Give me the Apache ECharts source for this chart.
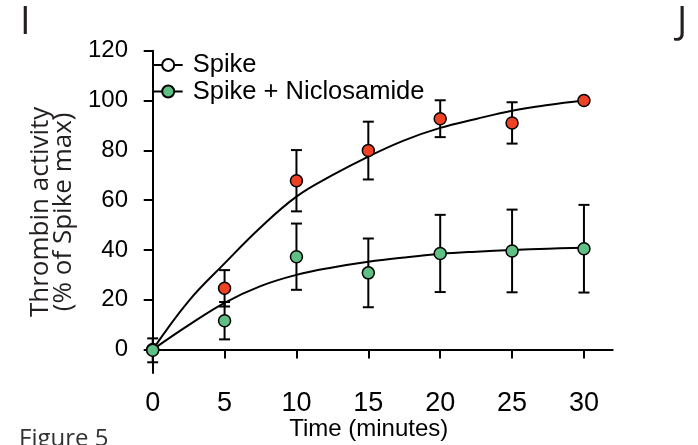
<!DOCTYPE html>
<html>
<head>
<meta charset="utf-8">
<script src="https://cdn.jsdelivr.net/npm/echarts@6/dist/echarts.min.js"></script>
<style>
  html, body { margin: 0; padding: 0; background: #fff; }
  #chart { width: 698px; height: 445px; }
</style>
</head>
<body>
<div id="chart"></div>
<script>
  // measured time points (minutes)
  const timePoints = [0, 5, 10, 15, 20, 25, 30]
  const spikeMean = [0, 24.6, 67.8, 79.9, 92.7, 91.0, 100]
  const spikeSem = [0, 7.3, 12.3, 11.6, 7.4, 8.3, 0]
  const niclosamideMean = [-0.3, 11.6, 37.3, 30.8, 38.6, 39.6, 40.5]
  const niclosamideSem = [4.8, 7.5, 13.3, 13.8, 15.5, 16.6, 17.6]

  // fitted curves
  const fitTime = [0, 2.5, 5, 7.5, 10, 12.5, 15, 17.5, 20, 22.5, 25, 27.5, 30]
  const spikeFit = [0, 19.5, 34.6, 49, 61.4, 70, 77.5, 84, 89, 92.6, 95.9, 98.2, 100]
  const niclosamideFit = [0, 9.8, 18.8, 25.5, 30, 33, 35.3, 37, 38.4, 39.3, 40, 40.5, 40.9]

  const yTicks = [0, 20, 40, 60, 80, 100, 120]
  const xTicks = [0, 5, 10, 15, 20, 25, 30]

  const red = '#ef4123'
  const green = '#5fbf84'
  const arial = '"Liberation Sans", Arial, sans-serif'

  const pairs = (xs, ys) => xs.map((x, i) => [x, ys[i]])
  const bars = (mean, sem) => timePoints
    .map((t, i) => [t, mean[i] - sem[i], mean[i] + sem[i]])
    .filter(d => d[2] > d[1])

  function renderErrorBar(params, api) {
    const x = api.value(0)
    const top = api.coord([x, api.value(2)])
    const bottom = api.coord([x, api.value(1)])
    const half = 5.5
    const style = { stroke: '#000', lineWidth: 2 }
    return {
      type: 'group',
      children: [
        { type: 'line', shape: { x1: top[0], y1: top[1], x2: bottom[0], y2: bottom[1] }, style },
        { type: 'line', shape: { x1: top[0] - half, y1: top[1], x2: top[0] + half, y2: top[1] }, style },
        { type: 'line', shape: { x1: bottom[0] - half, y1: bottom[1], x2: bottom[0] + half, y2: bottom[1] }, style }
      ]
    }
  }

  const chart = echarts.init(document.getElementById('chart'), null, { renderer: 'canvas' })

  chart.setOption({
    animation: false,
    grid: {
      left: 152.7,
      right: 85.3,
      top: 50.7,
      bottom: 72,
      containLabel: false,
      outerBoundsMode: 'none'
    },
    legend: {
      data: ['Spike', 'Spike + Niclosamide'],
      orient: 'vertical',
      left: 152.7,
      top: 52,
      padding: 0,
      itemWidth: 29,
      itemHeight: 15,
      itemGap: 0.5,
      selectedMode: false,
      textStyle: {
        fontFamily: arial,
        fontSize: 25.5,
        color: '#000',
        lineHeight: 26,
        padding: [0, 0, 0, 5]
      }
    },
    xAxis: {
      type: 'value',
      min: 0,
      max: 32,
      offset: 6,
      name: 'Time (minutes)',
      nameLocation: 'middle',
      nameGap: 38,
      nameMoveOverlap: false,
      nameTextStyle: {
        fontFamily: arial,
        fontSize: 24,
        color: '#000',
        padding: [0, 28, 0, 0]
      },
      axisLine: { lineStyle: { color: '#000', width: 2 } },
      axisTick: { length: 9, lineStyle: { color: '#000', width: 2 }, customValues: xTicks },
      axisLabel: { fontFamily: arial, fontSize: 27, color: '#000', margin: 11, customValues: xTicks },
      splitLine: { show: false }
    },
    yAxis: {
      type: 'value',
      min: -9.4,
      max: 120,
      offset: 10.7,
      name: 'Thrombin activity\n(% of Spike max)',
      nameLocation: 'middle',
      nameRotate: 90,
      nameGap: 66,
      nameTextStyle: {
        fontFamily: '"Open Sans", sans-serif',
        fontSize: 26,
        lineHeight: 23,
        color: '#231f20'
      },
      axisLine: { lineStyle: { color: '#000', width: 2 } },
      axisTick: { length: 9, lineStyle: { color: '#000', width: 2 }, customValues: yTicks },
      axisLabel: { fontFamily: arial, fontSize: 24, color: '#000', margin: 14, customValues: yTicks },
      splitLine: { show: false }
    },
    series: [
      {
        name: 'Spike',
        type: 'line',
        smooth: 0.4,
        showSymbol: false,
        symbol: 'circle',
        data: pairs(fitTime, spikeFit),
        lineStyle: { color: '#000', width: 2 },
        itemStyle: { color: '#fff', borderColor: '#000', borderWidth: 1.5 },
        z: 1
      },
      {
        name: 'Spike + Niclosamide',
        type: 'line',
        smooth: 0.4,
        showSymbol: false,
        symbol: 'circle',
        data: pairs(fitTime, niclosamideFit),
        lineStyle: { color: '#000', width: 2 },
        itemStyle: { color: green, borderColor: '#000', borderWidth: 1.5 },
        z: 1
      },
      {
        name: 'Spike error',
        type: 'custom',
        renderItem: renderErrorBar,
        data: bars(spikeMean, spikeSem),
        z: 2
      },
      {
        name: 'Niclosamide error',
        type: 'custom',
        renderItem: renderErrorBar,
        data: bars(niclosamideMean, niclosamideSem),
        z: 2
      },
      {
        name: 'Spike points',
        type: 'scatter',
        symbolSize: 12,
        data: pairs(timePoints, spikeMean),
        itemStyle: { color: red, borderColor: '#000', borderWidth: 1.5, opacity: 1 },
        z: 3
      },
      {
        name: 'Niclosamide points',
        type: 'scatter',
        symbolSize: 12,
        data: pairs(timePoints, niclosamideMean),
        itemStyle: { color: green, borderColor: '#000', borderWidth: 1.5, opacity: 1 },
        z: 4
      }
    ],
    graphic: [
      {
        type: 'text',
        left: 20,
        top: 4,
        style: { text: 'I', font: '38px "Open Sans", sans-serif', fill: '#231f20' }
      },
      {
        type: 'text',
        left: 677,
        top: 4,
        style: { text: 'J', font: '38px "Open Sans", sans-serif', fill: '#231f20' }
      },
      {
        type: 'text',
        left: 19,
        top: 427,
        style: { text: 'Figure 5', font: '24px "Open Sans", sans-serif', fill: '#333' }
      }
    ]
  })
</script>
</body>
</html>
